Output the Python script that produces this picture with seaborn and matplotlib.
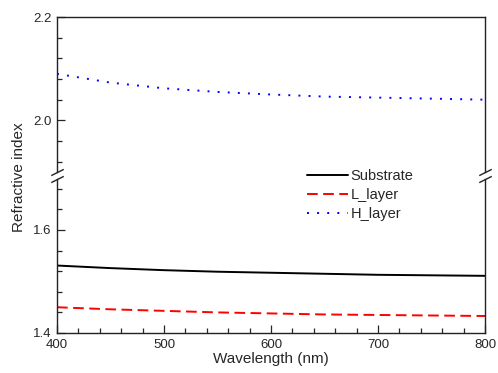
import matplotlib
matplotlib.use("Agg")
import matplotlib.pyplot as plt
from matplotlib.ticker import MultipleLocator
import numpy as np
import seaborn as sns

# wavelength grid (nm) and refractive indices
wavelength = [400, 450, 500, 550, 600, 650, 700, 750, 800]
substrate = [1.531, 1.526, 1.522, 1.519, 1.517, 1.515, 1.513, 1.512, 1.511]
l_layer = [1.450, 1.446, 1.443, 1.440, 1.438, 1.436, 1.435, 1.434, 1.433]
h_layer = [2.090, 2.073, 2.062, 2.055, 2.050, 2.046, 2.044, 2.042, 2.040]

sns.set_style("ticks")
plt.rcParams['font.family'] = ['Liberation Sans', 'DejaVu Sans']
plt.rcParams['xtick.direction'] = 'in'
plt.rcParams['ytick.direction'] = 'in'

W, H = 498, 373
fig = plt.figure(figsize=(W / 100, H / 100), dpi=100)
left, right = 57 / W, 485 / W
ax_top = fig.add_axes([left, 1 - 172 / H, right - left, 155 / H])
ax_bot = fig.add_axes([left, 1 - 333 / H, right - left, 154.5 / H])

lw = 1.4
sns.lineplot(x=wavelength, y=substrate, ax=ax_bot, color='black', lw=lw, label='Substrate')
sns.lineplot(x=wavelength, y=l_layer, ax=ax_bot, color='#ff0000', lw=lw,
             dashes=(5.5, 2.8), label='L_layer')
sns.lineplot(x=wavelength, y=h_layer, ax=ax_top, color='#0000ff', lw=lw,
             dashes=(1, 4.2), label='H_layer')

ax_top.set_ylim(1.9, 2.2)
ax_bot.set_ylim(1.4, 1.7)
for ax in (ax_top, ax_bot):
    ax.set_xlim(400, 800)
    ax.yaxis.set_major_locator(MultipleLocator(0.2))
    ax.yaxis.set_minor_locator(MultipleLocator(0.04))
    ax.tick_params(axis='y', which='major', length=6, width=0.9, labelsize=9.5, pad=4)
    ax.tick_params(axis='y', which='minor', length=3.5, width=0.9)
    for s in ax.spines.values():
        s.set_linewidth(1.0)
        s.set_color('#222222')
    if ax.get_legend():
        ax.get_legend().remove()

ax_top.spines['bottom'].set_visible(False)
ax_top.tick_params(axis='x', which='both', bottom=False, labelbottom=False)
ax_bot.spines['top'].set_visible(False)
ax_bot.xaxis.set_major_locator(MultipleLocator(100))
ax_bot.xaxis.set_minor_locator(MultipleLocator(20))
ax_bot.tick_params(axis='x', which='major', length=6, width=0.9, labelsize=9.5, pad=4)
ax_bot.tick_params(axis='x', which='minor', length=3.5, width=0.9)
ax_top.set_yticks([2.0, 2.2])
ax_bot.set_yticks([1.4, 1.6])
ax_bot.set_xlabel('Wavelength (nm)', fontsize=11, labelpad=1)
fig.text(0.038, 1 - 177 / H, 'Refractive index', rotation=90, fontsize=11,
         ha='center', va='center')

# axis break marks
kw = dict(marker=[(-1, -0.5), (1, 0.5)], markersize=9, linestyle='none',
          color='#222222', mec='#222222', mew=1, clip_on=False)
ax_top.plot([0, 1], [0, 0], transform=ax_top.transAxes, **kw)
ax_bot.plot([0, 1], [1, 1], transform=ax_bot.transAxes, **kw)

h1, l1 = ax_bot.get_legend_handles_labels()
h2, l2 = ax_top.get_legend_handles_labels()
fig.legend(h1 + h2, l1 + l2, loc='upper left',
           bbox_to_anchor=(307 / W, 1 - 169 / H), bbox_transform=fig.transFigure,
           frameon=False, fontsize=10.5, handlelength=2.8, handletextpad=0.2,
           labelspacing=0.35, borderpad=0, borderaxespad=0)

fig.savefig('out.png', dpi=100)
